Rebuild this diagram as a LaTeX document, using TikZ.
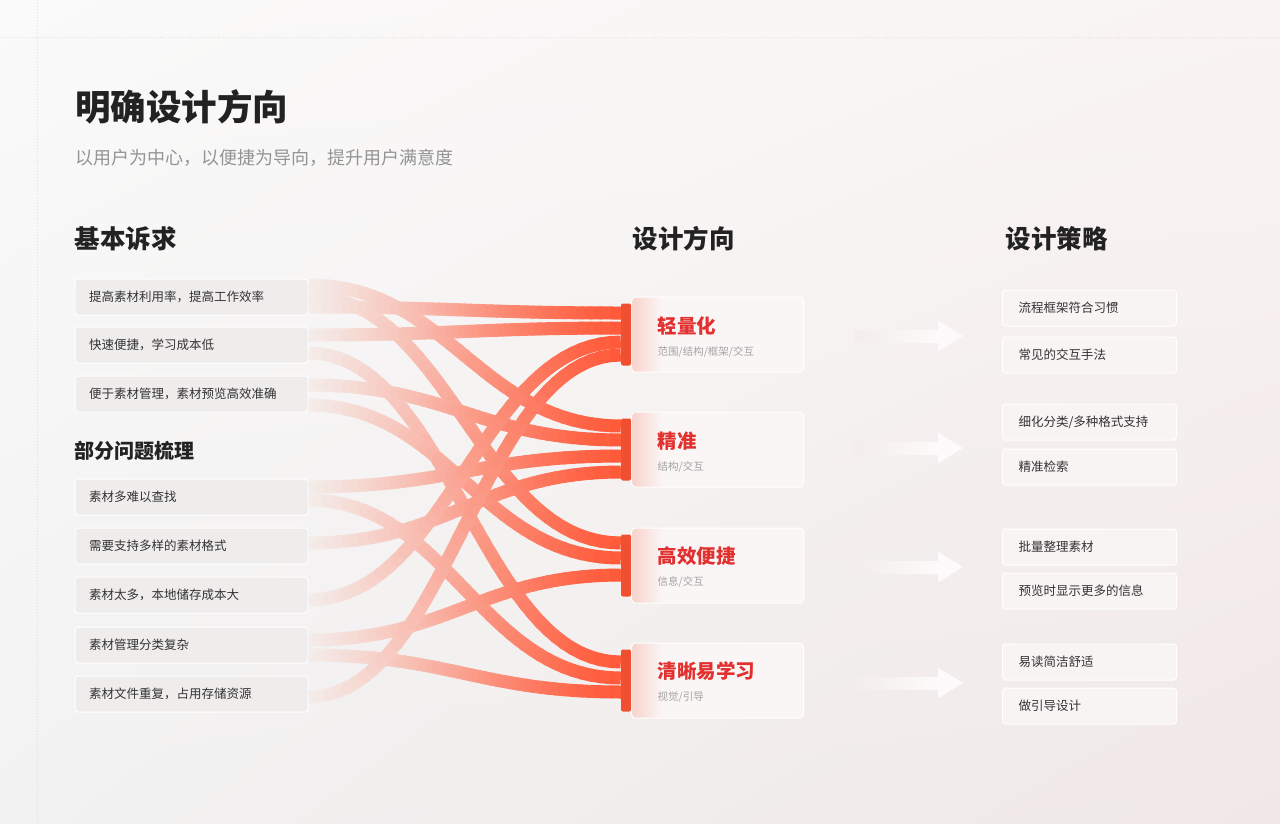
\documentclass[tikz,border=0pt]{standalone}
\usepackage{fontspec}
\setmainfont{Noto Sans CJK SC}
\usetikzlibrary{calc, shadings}

\definecolor{ribbonred}{HTML}{FF5A3A}
\definecolor{ribbonbg}{HTML}{F4F1F0}
\definecolor{barred}{HTML}{F24F30}
\definecolor{titlered}{HTML}{E2302F}
\definecolor{needfill}{HTML}{EFECEC}
\definecolor{tacfill}{HTML}{F8F4F4}
\definecolor{cardfill}{HTML}{FAF6F6}
\definecolor{cardglow}{HTML}{F8D2CB}
\definecolor{inkdark}{HTML}{222222}
\definecolor{inktext}{HTML}{333333}
\definecolor{inkgray}{HTML}{949494}
\definecolor{inklight}{HTML}{A3A3A3}
\definecolor{guidegray}{HTML}{E0E0E0}
\definecolor{arrowfade}{HTML}{F3EDEC}
\definecolor{arrowwhite}{HTML}{FCFAFA}
\definecolor{bgul}{HTML}{FAFAFA}
\definecolor{bgur}{HTML}{F9F4F3}
\definecolor{bgll}{HTML}{F2F2F2}
\definecolor{bglr}{HTML}{F0E8E7}

\pgfdeclarehorizontalshading{cardshade}{100bp}{color(0bp)=(cardglow); color(25bp)=(cardglow); color(34bp)=(cardfill); color(100bp)=(cardfill)}

% one ribbon: fades in from left to right
\newcommand{\ribbon}[2]{%
  \path #1 .. controls +(140,0) and +(-140,0) .. #2
    foreach \k in {0,...,40}{coordinate[pos=\k/40] (rb\k)};
  \foreach \k [evaluate=\k as \kk using int(\k+1), evaluate=\k as \mix using 3+97*\k/39] in {0,...,39}{
    \ifnum\k=0 \def\rbcap{butt}\else\ifnum\k=39 \def\rbcap{butt}\else\def\rbcap{round}\fi\fi
    \draw[ribbon, draw=ribbonred!\mix!ribbonbg, line cap=\rbcap] (rb\k) -- (rb\kk);
  }
}

\begin{document}
\begin{tikzpicture}[x=1pt, y=-1pt,
  needbox/.style={draw=white, line width=1, fill=needfill, rounded corners=3, anchor=west,
    minimum height=36, text width=205, inner xsep=14, inner ysep=0, align=left,
    font=\fontsize{12.5}{15}\selectfont, text=inktext},
  tacbox/.style={needbox, fill=tacfill, text width=142, inner xsep=16},
  dircard/.style={draw=white, line width=1, shade, shading=cardshade, rounded corners=4,
    minimum width=172, minimum height=75, anchor=west, inner sep=0},
  bar/.style={fill=barred, rounded corners=2, minimum width=10, minimum height=62, inner sep=0},
  head/.style={anchor=west, inner sep=0, text=inkdark, font=\fontsize{25.5}{30}\selectfont\bfseries},
  dirtitle/.style={anchor=west, inner sep=0, text=titlered, font=\fontsize{19.5}{24}\selectfont\bfseries},
  dirsub/.style={anchor=west, inner sep=0, text=inklight, font=\fontsize{10.5}{13}\selectfont},
  ribbon/.style={line width=13},
  guide/.style={draw=guidegray, dotted, line width=0.9}]

\useasboundingbox (0,0) rectangle (1280,823);

%the background
\shade[upper left=bgul, upper right=bgur, lower left=bgll, lower right=bglr]
  (0,0) rectangle (1280,823);
\draw[guide] (0,37) -- (1280,37);
\draw[guide] (37,0) -- (37,823);

%the titles
\node[anchor=west, inner sep=0, text=inkdark, font=\fontsize{35.5}{42}\selectfont\bfseries] (title) at (75,107) {明确设计方向};
\node[anchor=west, inner sep=0, text=inkgray, font=\fontsize{18}{22}\selectfont] (subtitle) at (75,158) {以用户为中心，以便捷为导向，提升用户满意度};

\node[head] (needhead) at (74.5,239) {基本诉求};
\node[head] (dirhead) at (632.5,239) {设计方向};
\node[head] (tachead) at (1005.5,239) {设计策略};
\node[head, font=\fontsize{20}{24}\selectfont\bfseries] (issuehead) at (74.5,451) {部分问题梳理};

%the needs and issues
\node[needbox] (need1) at (74.5,297) {提高素材利用率，提高工作效率};
\node[needbox] (need2) at (74.5,345) {快速便捷，学习成本低};
\node[needbox] (need3) at (74.5,394) {便于素材管理，素材预览高效准确};
\node[needbox] (need4) at (74.5,497) {素材多难以查找};
\node[needbox] (need5) at (74.5,546) {需要支持多样的素材格式};
\node[needbox] (need6) at (74.5,595) {素材太多，本地储存成本大};
\node[needbox] (need7) at (74.5,645) {素材管理分类复杂};
\node[needbox] (need8) at (74.5,694) {素材文件重复，占用存储资源};

%the directions
\node[dircard] (dir1) at (631,334.5) {};
\node[dircard] (dir2) at (631,449.5) {};
\node[dircard] (dir3) at (631,565.5) {};
\node[dircard] (dir4) at (631,680.5) {};
\node[bar] (bar1) at (626,334.5) {};
\node[bar] (bar2) at (626,449.5) {};
\node[bar] (bar3) at (626,565.5) {};
\node[bar] (bar4) at (626,680.5) {};

\node[dirtitle] (dir1t) at (657.5,326) {轻量化};
\node[dirsub] (dir1s) at (657.5,352) {范围/结构/框架/交互};
\node[dirtitle] (dir2t) at (657.5,441) {精准};
\node[dirsub] (dir2s) at (657.5,467) {结构/交互};
\node[dirtitle] (dir3t) at (657.5,556) {高效便捷};
\node[dirsub] (dir3s) at (657.5,582) {信息/交互};
\node[dirtitle] (dir4t) at (657.5,671) {清晰易学习};
\node[dirsub] (dir4s) at (657.5,697) {视觉/引导};

%the ribbons
\ribbon{($(need2.east)+(0,8)$)}{($(bar4.west)+(0,-18.5)$)}
\ribbon{($(need1.east)+(0,-1)$)}{($(bar3.west)+(0,-22.5)$)}
\ribbon{($(need4.east)+(0,3)$)}{($(bar4.west)+(0,-2.5)$)}
\ribbon{($(need1.east)+(0,-12)$)}{($(bar2.west)+(0,-23.5)$)}
\ribbon{($(need3.east)+(0,11)$)}{($(bar3.west)+(0,-7.5)$)}
\ribbon{($(need3.east)+(0,-9)$)}{($(bar2.west)+(0,-9.5)$)}
\ribbon{($(need1.east)+(0,10)$)}{($(bar1.west)+(0,-21.5)$)}
\ribbon{($(need2.east)+(0,-10)$)}{($(bar1.west)+(0,-6.5)$)}
\ribbon{($(need4.east)+(0,-10)$)}{($(bar2.west)+(0,6.5)$)}
\ribbon{($(need5.east)+(0,-3)$)}{($(bar2.west)+(0,22.5)$)}
\ribbon{($(need7.east)+(0,-5)$)}{($(bar3.west)+(0,9.5)$)}
\ribbon{($(need7.east)+(0,10)$)}{($(bar4.west)+(0,11.5)$)}
\ribbon{($(need6.east)+(0,5)$)}{($(bar1.west)+(0,7.5)$)}
\ribbon{($(need8.east)+(0,3)$)}{($(bar1.west)+(0,20.5)$)}

%the arrows
\foreach \i/\dy in {1/1.5, 2/-1.5, 3/1.5, 4/2.5} {
  \shade[left color=arrowfade, right color=arrowwhite] ($(dir\i.east)+(50,\dy-6)$) rectangle ($(dir\i.east)+(134,\dy+6)$);
  \fill[arrowwhite] ($(dir\i.east)+(134,\dy-15.5)$) -- ($(dir\i.east)+(159,\dy)$) -- ($(dir\i.east)+(134,\dy+15.5)$) -- cycle;
}

%the strategies
\node[tacbox] (tac1) at (1002,308) {流程框架符合习惯};
\node[tacbox] (tac2) at (1002,355) {常见的交互手法};
\node[tacbox] (tac3) at (1002,422) {细化分类/多种格式支持};
\node[tacbox] (tac4) at (1002,467) {精准检索};
\node[tacbox] (tac5) at (1002,547) {批量整理素材};
\node[tacbox] (tac6) at (1002,591) {预览时显示更多的信息};
\node[tacbox] (tac7) at (1002,662) {易读简洁舒适};
\node[tacbox] (tac8) at (1002,706) {做引导设计};
\end{tikzpicture}
\end{document}
